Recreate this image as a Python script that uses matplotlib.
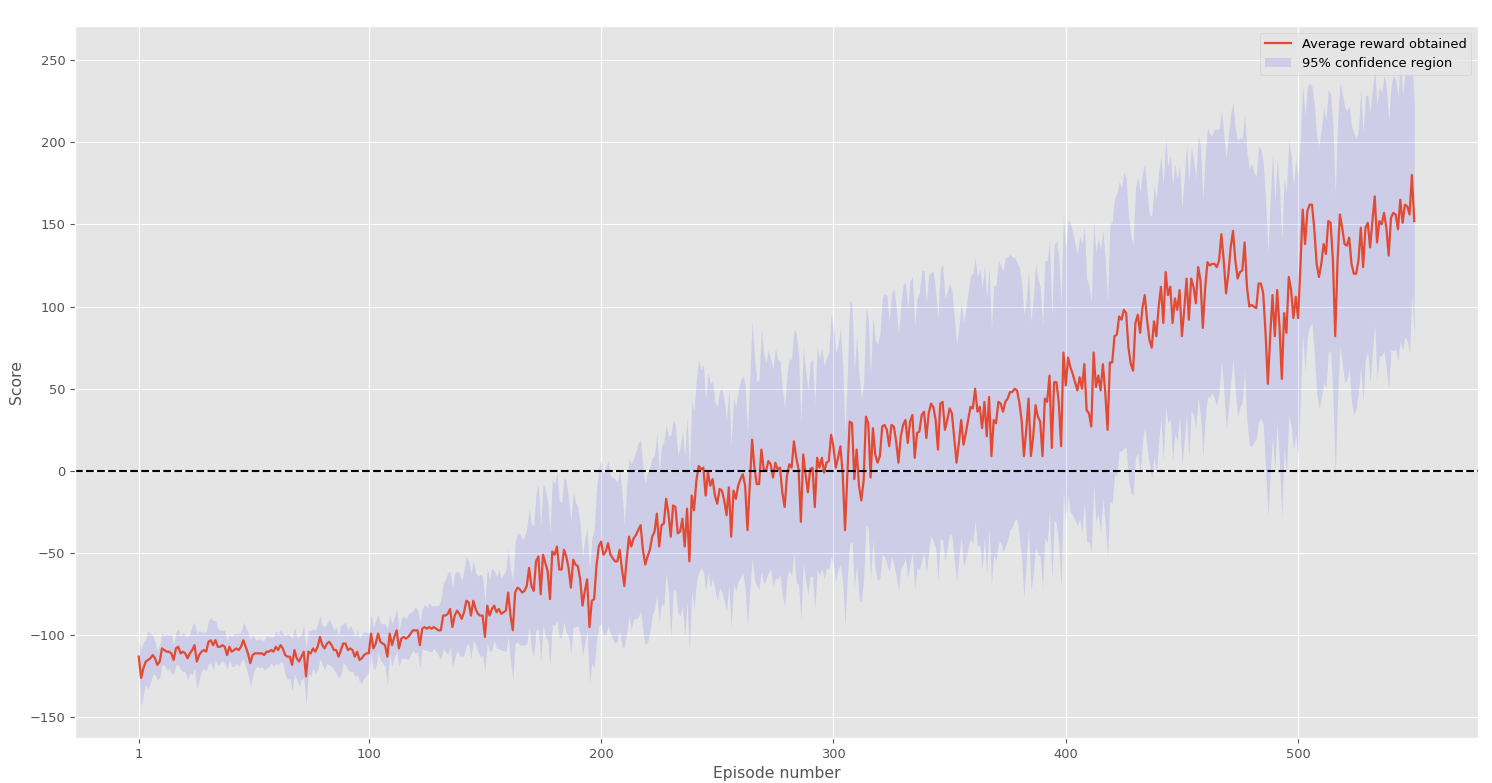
import numpy as np
import matplotlib
matplotlib.use("Agg")
import matplotlib.pyplot as plt

plt.style.use("ggplot")
plt.rcParams["font.size"] = 9.4

# Average reward per episode
mean_reward = [
    -113, -126, -120, -116, -115, -114, -112, -114, -118, -116,
    -108, -109, -110, -110, -111, -115, -108, -107, -111, -110,
    -111, -114, -111, -109, -106, -116, -112, -110, -109, -110,
    -104, -103, -106, -103, -107, -107, -106, -107, -112, -107,
    -110, -109, -108, -109, -107, -103, -107, -111, -117, -112,
    -111, -111, -111, -111, -112, -110, -110, -109, -110, -107,
    -109, -106, -108, -112, -113, -113, -118, -109, -114, -116,
    -113, -110, -125, -110, -111, -108, -110, -107, -101, -106,
    -108, -105, -104, -106, -109, -109, -113, -109, -105, -105,
    -109, -108, -109, -113, -110, -115, -114, -112, -111, -111,
    -99, -108, -105, -99, -104, -105, -106, -113, -99, -106,
    -101, -97, -108, -102, -101, -102, -101, -99, -97, -97,
    -97, -106, -96, -95, -96, -95, -96, -95, -96, -97,
    -97, -88, -88, -87, -84, -95, -88, -85, -87, -90,
    -86, -79, -80, -88, -79, -84, -87, -88, -88, -101,
    -82, -88, -84, -82, -86, -84, -87, -86, -85, -74,
    -88, -97, -74, -71, -72, -74, -73, -70, -59, -70,
    -73, -55, -52, -75, -51, -56, -61, -78, -49, -51,
    -46, -60, -60, -48, -52, -59, -71, -54, -57, -58,
    -66, -82, -73, -66, -95, -79, -78, -58, -46, -43,
    -51, -49, -44, -51, -53, -55, -55, -48, -60, -70,
    -54, -40, -46, -41, -39, -36, -33, -48, -57, -52,
    -48, -40, -37, -26, -46, -33, -32, -17, -26, -40,
    -21, -22, -38, -37, -29, -46, -23, -55, -15, -24,
    -6, 3, 1, 2, -15, -1, -9, -5, -15, -20,
    -11, -12, -18, -27, -10, -40, -12, -17, -9, -5,
    -2, -9, -36, -8, 19, 2, -8, -8, 13, 1,
    0, 6, 4, -4, 5, 1, 2, -13, -22, -3,
    4, 2, 18, 8, 1, -31, 10, -2, -13, 1,
    2, -22, 8, 2, 8, -1, 5, 6, 22, 15,
    2, 8, 15, -2, -36, -2, 30, 29, -5, 13,
    -9, -18, -6, 33, 29, -4, 26, 10, 5, 9,
    27, 28, 25, 15, 28, 27, 18, 5, 21, 28,
    31, 17, 30, 34, 8, 23, 24, 34, 36, 20,
    35, 41, 39, 31, 13, 41, 42, 25, 31, 38,
    35, 20, 5, 17, 31, 16, 23, 31, 39, 38,
    50, 36, 39, 26, 42, 21, 45, 9, 31, 29,
    42, 41, 36, 42, 44, 48, 48, 50, 49, 42,
    31, 9, 25, 44, 9, 21, 40, 33, 30, 9,
    44, 42, 58, 14, 54, 54, 42, 15, 72, 52,
    69, 63, 59, 54, 49, 57, 50, 65, 37, 35,
    27, 72, 51, 58, 49, 65, 48, 25, 66, 66,
    82, 83, 94, 92, 98, 96, 75, 65, 61, 90,
    95, 84, 99, 107, 92, 80, 75, 91, 82, 100,
    112, 90, 121, 107, 112, 90, 105, 98, 110, 82,
    98, 117, 92, 117, 112, 102, 124, 116, 87, 111,
    127, 125, 126, 126, 124, 128, 144, 128, 108, 120,
    136, 146, 128, 117, 121, 122, 139, 112, 100, 101,
    100, 99, 114, 114, 108, 84, 53, 82, 107, 82,
    110, 88, 56, 96, 84, 118, 110, 93, 106, 93,
    124, 159, 138, 158, 162, 162, 147, 126, 118, 126,
    138, 132, 152, 151, 128, 82, 128, 156, 148, 138,
    137, 142, 126, 120, 120, 128, 148, 124, 148, 151,
    136, 152, 167, 139, 152, 150, 157, 148, 131, 154,
    157, 156, 147, 165, 151, 162, 161, 156, 180, 152,
]

# Half-width of the 95% confidence region per episode
ci_half_width = [
    10, 17, 16, 14, 18, 15, 12, 10, 9, 10,
    10, 9, 11, 10, 12, 9, 10, 11, 10, 12,
    11, 13, 12, 15, 14, 17, 15, 12, 11, 12,
    13, 14, 15, 12, 11, 10, 9, 10, 9, 8,
    9, 10, 9, 10, 9, 11, 12, 13, 14, 13,
    9, 8, 9, 8, 9, 10, 9, 8, 9, 10,
    9, 10, 9, 12, 14, 13, 16, 14, 13, 15,
    14, 16, 17, 13, 14, 12, 13, 14, 13, 12,
    13, 12, 14, 13, 12, 14, 13, 15, 12, 13,
    12, 14, 13, 12, 14, 13, 15, 14, 13, 12,
    12, 13, 14, 12, 11, 12, 13, 17, 12, 13,
    12, 13, 11, 12, 13, 12, 14, 13, 12, 14,
    13, 14, 12, 14, 13, 15, 14, 13, 14, 15,
    18, 20, 22, 25, 23, 24, 26, 24, 25, 23,
    26, 27, 25, 26, 24, 22, 23, 25, 24, 21,
    23, 22, 25, 21, 22, 24, 22, 23, 25, 27,
    28, 30, 31, 33, 34, 32, 33, 35, 36, 38,
    40, 42, 44, 41, 43, 45, 42, 40, 44, 43,
    45, 42, 41, 44, 46, 42, 40, 41, 38, 36,
    33, 30, 32, 31, 34, 38, 42, 46, 48, 50,
    49, 51, 50, 48, 49, 50, 48, 49, 47, 37,
    45, 48, 50, 49, 51, 53, 52, 50, 49, 52,
    50, 48, 47, 49, 46, 48, 50, 45, 47, 62,
    52, 50, 48, 51, 53, 55, 56, 54, 58, 60,
    62, 65, 60, 63, 58, 61, 62, 60, 57, 59,
    60, 62, 61, 58, 60, 55, 57, 56, 58, 60,
    60, 62, 58, 65, 72, 68, 62, 64, 74, 70,
    66, 68, 64, 66, 70, 67, 65, 63, 60, 62,
    64, 66, 68, 76, 70, 60, 66, 64, 62, 65,
    66, 63, 68, 66, 67, 65, 64, 66, 74, 72,
    70, 68, 72, 66, 58, 62, 74, 72, 66, 70,
    68, 62, 60, 66, 64, 62, 68, 70, 72, 74,
    78, 80, 82, 76, 80, 84, 82, 78, 80, 85,
    84, 82, 86, 84, 80, 82, 84, 88, 86, 82,
    84, 80, 82, 78, 80, 82, 84, 80, 78, 76,
    75, 74, 72, 70, 72, 74, 76, 78, 80, 82,
    80, 82, 84, 86, 82, 84, 80, 78, 82, 84,
    86, 84, 85, 88, 86, 84, 82, 80, 78, 82,
    84, 86, 80, 78, 82, 84, 86, 84, 82, 80,
    84, 86, 82, 80, 84, 86, 88, 86, 84, 82,
    84, 88, 86, 84, 82, 86, 88, 84, 80, 78,
    76, 80, 82, 84, 86, 82, 80, 78, 84, 86,
    84, 86, 82, 80, 84, 82, 80, 78, 76, 82,
    84, 86, 82, 80, 78, 76, 80, 82, 84, 82,
    80, 84, 82, 78, 80, 84, 82, 80, 76, 78,
    80, 82, 84, 80, 78, 76, 80, 82, 78, 80,
    82, 80, 78, 82, 84, 80, 76, 78, 82, 84,
    82, 78, 80, 84, 82, 80, 78, 82, 84, 86,
    82, 80, 84, 82, 80, 82, 80, 84, 86, 82,
    80, 84, 84, 82, 86, 84, 82, 80, 84, 86,
    80, 76, 78, 76, 74, 72, 76, 78, 80, 82,
    84, 82, 80, 78, 82, 86, 84, 80, 82, 84,
    82, 80, 84, 86, 82, 80, 84, 82, 80, 78,
    82, 80, 78, 84, 82, 80, 84, 86, 82, 80,
    84, 82, 80, 86, 78, 80, 82, 84, 72, 72,
]

x_ticks = [1, 100, 200, 300, 400, 500]

mean = np.array(mean_reward, dtype=float)
hw = np.array(ci_half_width, dtype=float)
episodes = np.arange(1, len(mean) + 1)

fig = plt.figure(figsize=(14.92, 7.83), dpi=100)
ax = fig.add_axes([75 / 1492, 1 - 738 / 783, (1478 - 75) / 1492, (738 - 26) / 783])

ax.plot(episodes, mean, color="#E24A33", linewidth=1.6, label="Average reward obtained")
ax.fill_between(episodes, mean - hw, mean + hw, color="blue", alpha=0.1,
                linewidth=0, label="95% confidence region")
ax.axhline(0, color="black", linestyle="--", linewidth=1.5)

ax.set_xticks(x_ticks)
ax.set_xlim(-26.45, 577.45)
ax.set_ylim(-162.5, 270.7)
ax.set_yticks([-150, -100, -50, 0, 50, 100, 150, 200, 250])
ax.set_xlabel("Episode number")
ax.set_ylabel("Score")
ax.legend(loc="upper right")

fig.savefig("out.png", dpi=100)
